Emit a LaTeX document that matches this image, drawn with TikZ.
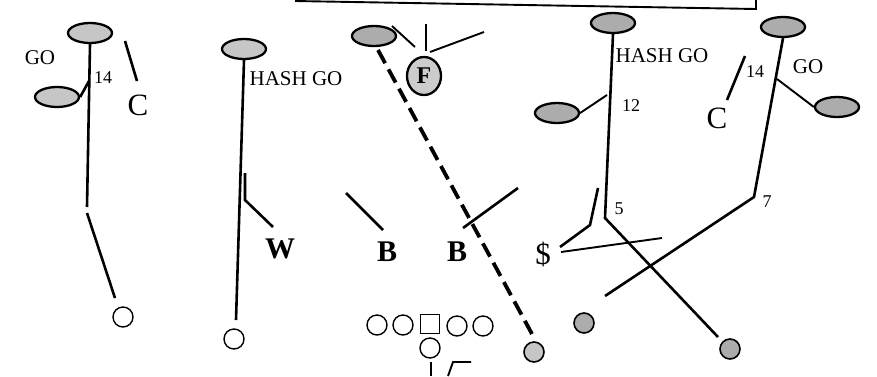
\documentclass[tikz,border=0pt]{standalone}
\usepackage{fontspec}
\setmainfont{Liberation Serif}
\usetikzlibrary{shapes.geometric}
\begin{document}
\begin{tikzpicture}[x=1pt,y=-1pt,
  route/.style={line width=2.6pt},
  thinline/.style={line width=1.9pt},
  lightoval/.style={ellipse,draw,line width=2.3pt,fill=gray!45,minimum width=44pt,minimum height=20pt,inner sep=0pt},
  darkoval/.style={ellipse,draw,line width=2.3pt,fill=gray!65,minimum width=44pt,minimum height=20pt,inner sep=0pt},
  player/.style={circle,draw,line width=1.4pt,minimum size=20pt,inner sep=0pt},
  lightdot/.style={circle,draw,line width=1.6pt,fill=gray!45,minimum size=20pt,inner sep=0pt},
  darkdot/.style={circle,draw,line width=1.6pt,fill=gray!65,minimum size=20pt,inner sep=0pt},
  center/.style={rectangle,draw,line width=1.4pt,minimum size=19pt,inner sep=0pt},
  lbl/.style={inner sep=0pt,font=\fontsize{21}{21}\selectfont},
  num/.style={inner sep=0pt,font=\fontsize{18}{18}\selectfont},
  big/.style={inner sep=0pt,font=\fontsize{31}{31}\selectfont},
  bigb/.style={inner sep=0pt,font=\bfseries\fontsize{30}{30}\selectfont}]
\useasboundingbox (0,0) rectangle (877,376);
% top box edge
\coordinate (tb1) at (295,1); \coordinate (tb2) at (756,9); \coordinate (tb3) at (756,0);
\draw[thinline] (tb1) -- (tb2) -- (tb3);

% ---- column 1
\node[lightoval] (e1) at (90,33) {};
\node[lightoval] (e1b) at (57,97) {};
\node[player] (p1) at (123,317) {};
\coordinate (a1) at (87,207); \coordinate (a2) at (87,213); \coordinate (a3) at (115,298);
\coordinate (j1) at (89,81);
\draw[route] (e1.south) -- (a1);
\draw[route] (a2) -- (a3);
\draw[route] (j1) -- (e1b.east);
\node[lbl] (go1) at (40,58) {GO};
\node[num] (n14a) at (103,78) {14};
\coordinate (c1a) at (125,41); \coordinate (c1b) at (137,81);
\draw[route] (c1a) -- (c1b);
\node[big] (C1) at (138,105) {C};

% ---- column 2
\node[lightoval] (e2) at (244,49) {};
\node[player] (p2) at (234,339) {};
\coordinate (b1) at (236,320);
\draw[route] (e2.south) -- (b1);
\coordinate (w1) at (245,173); \coordinate (w2) at (245,200); \coordinate (w3) at (273,227);
\draw[route] (w1) -- (w2) -- (w3);
\node[lbl] (hg2) at (296,79) {HASH GO};
\node[bigb] (W) at (280,249) {W};

% ---- column 3
\node[darkoval] (e3) at (374,36) {};
\node[ellipse,draw,line width=2.3pt,fill=gray!40,minimum width=34pt,minimum height=38pt,inner sep=0pt,font=\bfseries\fontsize{24}{24}\selectfont] (F) at (424,76) {F};
\coordinate (f1) at (392,26); \coordinate (f2) at (415,47);
\draw[thinline] (f1) -- (f2);
\coordinate (f3) at (426,24); \coordinate (f4) at (426,51);
\draw[route] (f3) -- (f4);
\coordinate (f5) at (430,52); \coordinate (f6) at (484,32);
\draw[thinline] (f5) -- (f6);
\node[lightdot] (d3) at (534,352) {};
\coordinate (ds1) at (378,50); \coordinate (ds2) at (532,334);
\draw[line width=3.8pt,dash pattern=on 15pt off 7pt] (ds1) -- (ds2);
\coordinate (bl1) at (346,193); \coordinate (bl2) at (383,230);
\draw[route] (bl1) -- (bl2);
\node[bigb] (B1) at (387,252) {B};
\coordinate (br1) at (463,228); \coordinate (br2) at (518,188);
\draw[route] (br1) -- (br2);
\node[bigb] (B2) at (457,252) {B};

% offensive line
\node[player] (ol1) at (377,325) {};
\node[player] (ol2) at (403,325) {};
\node[center] (ctr) at (430,324) {};
\node[player] (ol3) at (457,326) {};
\node[player] (ol4) at (483,326) {};
\node[player] (qb) at (430,348) {};
\coordinate (q1) at (431,362); \coordinate (q2) at (431,376);
\draw[thinline] (q1) -- (q2);
\coordinate (q3) at (448,376); \coordinate (q4) at (453,362); \coordinate (q5) at (471,362);
\draw[thinline] (q3) -- (q4) -- (q5);

% ---- column 4
\node[darkoval] (e4) at (613,23) {};
\node[darkoval] (e4b) at (557,113) {};
\node[darkdot] (p4) at (730,349) {};
\coordinate (g1) at (605,218); \coordinate (g2) at (718,337);
\draw[route] (e4.south) -- (g1) -- (g2);
\coordinate (g3) at (607,95);
\draw[thinline] (g3) -- (e4b.east);
\node[lbl] (hg4) at (662,56) {HASH GO};
\node[num] (n12) at (631,106) {12};
\node[num] (n5) at (619,209) {5};
\coordinate (s1) at (598,188); \coordinate (s2) at (590,225); \coordinate (s3) at (560,247);
\draw[route] (s1) -- (s2) -- (s3);
\coordinate (s4) at (561,252); \coordinate (s5) at (662,238);
\draw[thinline] (s4) -- (s5);
\node[big] (dollar) at (543,254) {\$};

% ---- column 5
\node[darkoval] (e5) at (783,27) {};
\node[darkoval] (e5b) at (837,107) {};
\node[darkdot] (p5) at (584,323) {};
\coordinate (h1) at (754,197); \coordinate (h2) at (605,296);
\draw[route] (e5.south) -- (h1) -- (h2);
\coordinate (h3) at (777,79);
\draw[thinline] (h3) -- (e5b.west);
\node[num] (n7) at (767,202) {7};
\node[num] (n14b) at (755,72) {14};
\node[lbl] (go5) at (808,67) {GO};
\coordinate (c5a) at (745,56); \coordinate (c5b) at (727,100);
\draw[route] (c5a) -- (c5b);
\node[big] (C5) at (717,118) {C};
\end{tikzpicture}
\end{document}
